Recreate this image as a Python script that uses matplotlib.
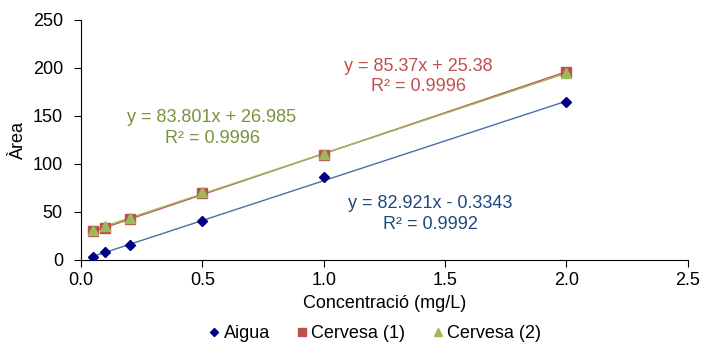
import matplotlib
matplotlib.use("Agg")
import matplotlib.pyplot as plt
import numpy as np

plt.rcParams['font.family'] = ['Liberation Sans', 'DejaVu Sans']

conc = [0.05, 0.1, 0.2, 0.5, 1.0, 2.0]
aigua = [3.5, 8, 15.5, 41, 86, 164.5]
cervesa1 = [30, 33, 43, 70, 109, 196]
cervesa2 = [31, 35, 44, 71, 110, 195]

series_names = ["Aigua", "Cervesa (1)", "Cervesa (2)"]
slopes = [82.921, 85.37, 83.801]
intercepts = [-0.3343, 25.38, 26.985]
eq_labels = ["y = 82.921x - 0.3343\nR² = 0.9992",
             "y = 85.37x + 25.38\nR² = 0.9996",
             "y = 83.801x + 26.985\nR² = 0.9996"]

x_ticks = [0.0, 0.5, 1.0, 1.5, 2.0, 2.5]
y_ticks = [0, 50, 100, 150, 200, 250]

FS = 13

fig = plt.figure(figsize=(7.04, 3.46), dpi=100)
ax = fig.add_axes([0.115, 0.2486, 0.862, 0.6936])

marker_colors = ["#000080", "#C0504D", "#9BBB59"]
line_colors = ["#4472A8", "#C0504D", "#9BBB59"]
text_colors = ["#1F497D", "#C0504D", "#77933C"]
markers = ["D", "s", "^"]
msizes = [5.5, 7.5, 7.5]

data = [aigua, cervesa1, cervesa2]
xs = np.array([conc[0], conc[-1]])
for i in range(3):
    ax.plot(xs, slopes[i] * xs + intercepts[i], color=line_colors[i], lw=1.0, zorder=2)
for i in range(3):
    ax.plot(conc, data[i], linestyle='none', marker=markers[i], color=marker_colors[i],
            markersize=msizes[i], label=series_names[i], zorder=3)

ax.set_xlim(0, 2.5)
ax.set_ylim(0, 250)
ax.set_xticks(x_ticks)
ax.set_yticks(y_ticks)
ax.set_xticklabels([f"{v:.1f}" for v in x_ticks])
ax.tick_params(labelsize=FS, direction='out', length=5, width=0.8)
ax.tick_params(axis='y', pad=8)
ax.tick_params(axis='x', pad=4)
for s in ['top', 'right']:
    ax.spines[s].set_visible(False)

ax.set_xlabel("Concentració (mg/L)", fontsize=FS, labelpad=4)
ax.set_ylabel("Àrea", fontsize=FS, labelpad=4)

ax.text(1.44, 48, eq_labels[0], color=text_colors[0], fontsize=FS, ha='center', va='center', linespacing=1.25)
ax.text(1.39, 191.5, eq_labels[1], color=text_colors[1], fontsize=FS, ha='center', va='center', linespacing=1.25)
ax.text(0.54, 137.5, eq_labels[2], color=text_colors[2], fontsize=FS, ha='center', va='center', linespacing=1.25)

fig.legend(loc='center', bbox_to_anchor=(0.53, 0.035), ncol=3, frameon=False, borderpad=0.0,
           fontsize=FS, handletextpad=0.0, columnspacing=1.3, markerscale=0.75, handlelength=1.0)

fig.savefig("out.png", dpi=100)
